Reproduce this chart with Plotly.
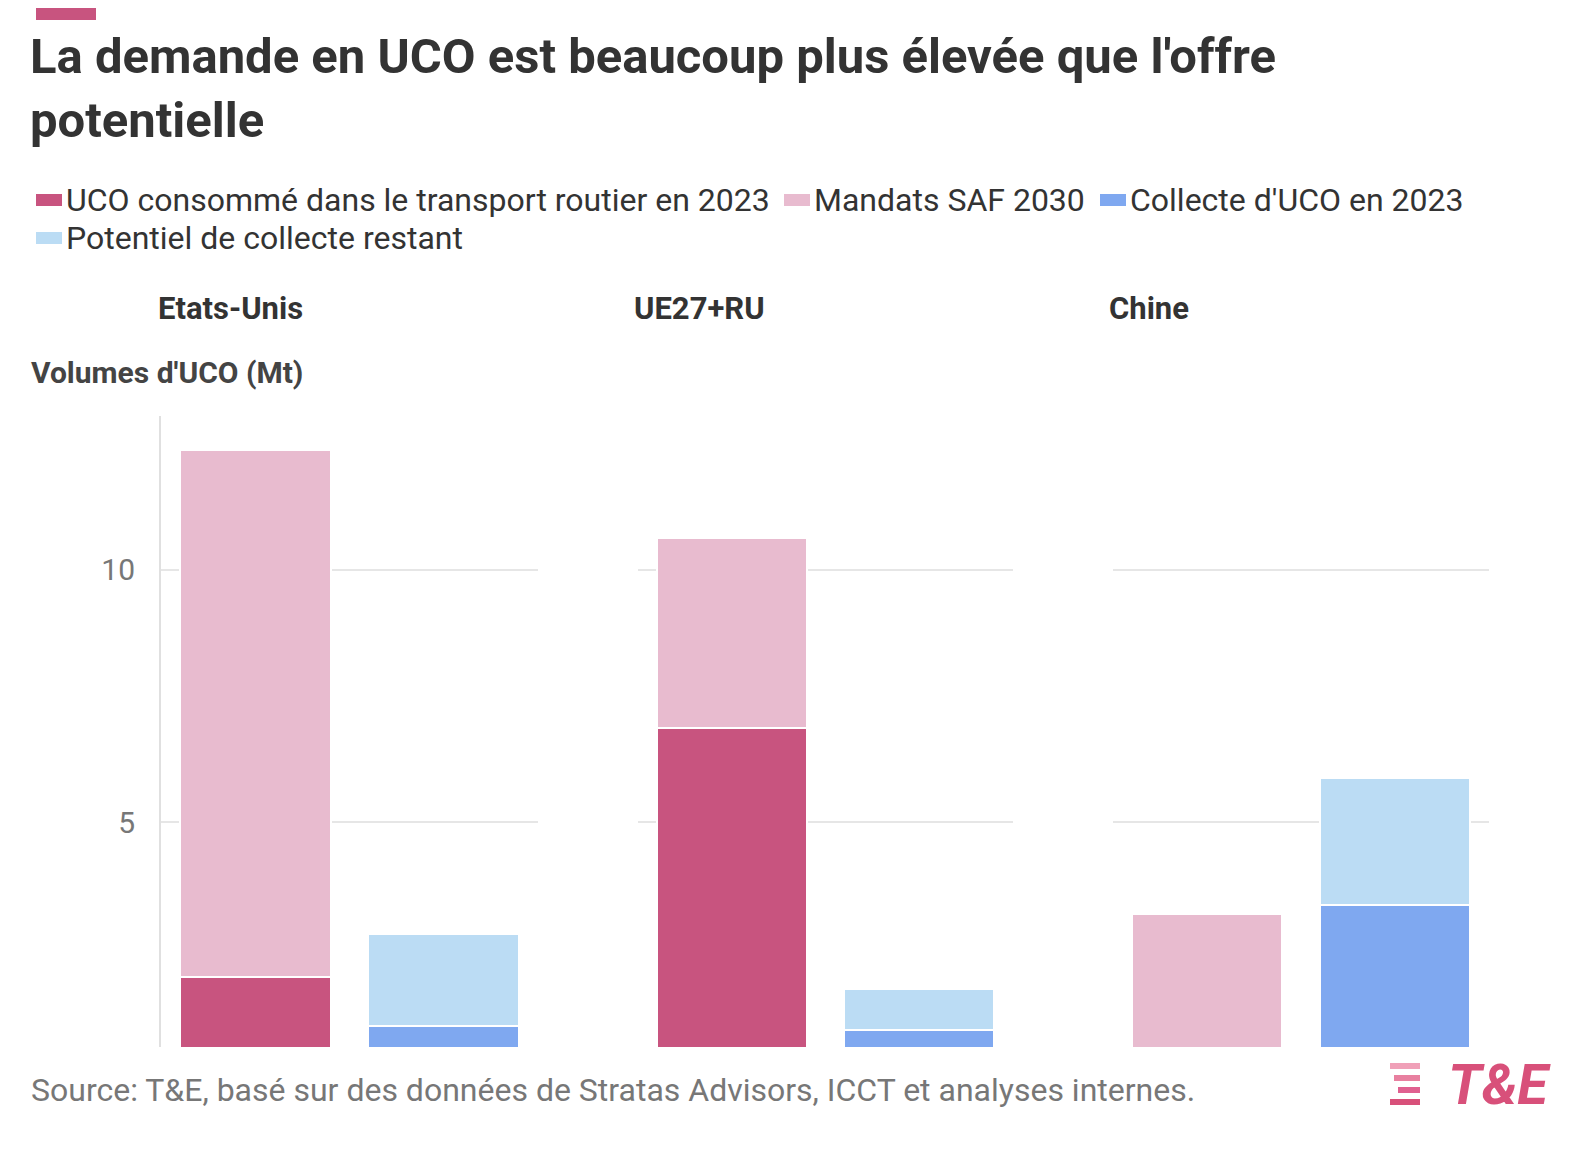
import plotly.graph_objects as go
from plotly.subplots import make_subplots

regions = ["Etats-Unis", "UE27+RU", "Chine"]
# demand bar: road 2023 + SAF 2030 ; supply bar: collected 2023 + remaining potential
road = [1.94, 6.86, 0]
saf = [10.43, 3.77, 3.18]
collect = [0.97, 0.89, 3.36]
remaining = [1.82, 0.81, 2.51]

red, pink, blue, lblue = "#C8547F", "#E8BBCF", "#7FA8F0", "#BBDCF4"
font = "Roboto"
W, H = 1588, 1150
L, R, T, B = 153, 107, 408, 111
pw, ph = W - L - R, H - T - B


def px(x):
    return (x - L) / pw


def py(y):
    return (H - B - y) / ph


fig = make_subplots(rows=1, cols=3, shared_yaxes=True, horizontal_spacing=0.0)
for i in range(3):
    c = i + 1
    fig.add_trace(go.Bar(x=["d"], y=[road[i]], marker_color=red, showlegend=False,
                         marker_line=dict(color="white", width=2)), row=1, col=c)
    fig.add_trace(go.Bar(x=["d"], y=[saf[i]], marker_color=pink, showlegend=False,
                         marker_line=dict(color="white", width=2)), row=1, col=c)
    fig.add_trace(go.Bar(x=["s"], y=[collect[i]], marker_color=blue, showlegend=False,
                         marker_line=dict(color="white", width=2)), row=1, col=c)
    fig.add_trace(go.Bar(x=["s"], y=[remaining[i]], marker_color=lblue, showlegend=False,
                         marker_line=dict(color="white", width=2)), row=1, col=c)

doms = [[0, 377 / pw], [477 / pw, 852 / pw], [952 / pw, 1]]
for i in range(3):
    fig.update_xaxes(domain=doms[i], showticklabels=False, showgrid=False, row=1, col=i + 1)
    fig.update_yaxes(range=[0.55, 13.05], tickvals=[5, 10], gridcolor="#E6E6E6", gridwidth=2,
                     showline=(i == 0), linecolor="#E0E0E0", linewidth=2, zeroline=False,
                     tickfont=dict(size=30, color="#777777"), ticklabelstandoff=18, row=1, col=i + 1)

fig.update_layout(
    width=W, height=H, barmode="stack", bargap=0.2,
    plot_bgcolor="white", paper_bgcolor="white",
    font=dict(family=font, color="#333333"),
    margin=dict(l=L, r=R, t=T, b=B),
    title=dict(text="<b>La demande en UCO est beaucoup plus élevée que l'offre<br>potentielle</b>",
               x=22 / W, xanchor="left", y=1 - 65 / H, yanchor="middle",
               font=dict(size=49, color="#333333")),
)

# legend drawn by hand
legend = [("UCO consommé dans le transport routier en 2023", red, 28, 192),
          ("Mandats SAF 2030", pink, 776, 192),
          ("Collecte d'UCO en 2023", blue, 1092, 192),
          ("Potentiel de collecte restant", lblue, 28, 230)]
for txt, col, x, y in legend:
    fig.add_shape(type="rect", xref="paper", yref="paper", x0=px(x), x1=px(x + 26),
                  y0=py(y + 6), y1=py(y - 6), fillcolor=col, line_width=0)
    fig.add_annotation(text=txt, xref="paper", yref="paper", x=px(x + 28), y=py(y),
                       xanchor="left", yanchor="middle", showarrow=False,
                       font=dict(size=32, color="#333333"))

for txt, xp in zip(regions, [148, 624, 1099]):
    fig.add_annotation(text="<b>" + txt + "</b>", xref="paper", yref="paper", x=px(xp),
                       y=py(300), xanchor="left", yanchor="middle", showarrow=False,
                       font=dict(size=31, color="#333333"))
fig.add_annotation(text="<b>Volumes d'UCO (Mt)</b>", xref="paper", yref="paper", x=px(21),
                   y=py(365), xanchor="left", yanchor="middle", showarrow=False,
                   font=dict(size=30, color="#444444"))
fig.add_annotation(text="Source: T&E, basé sur des données de Stratas Advisors, ICCT et analyses internes.",
                   xref="paper", yref="paper", x=px(21), y=py(1082),
                   xanchor="left", yanchor="middle", showarrow=False,
                   font=dict(size=32, color="#777777"))
fig.add_annotation(text="<b><i>T&E</i></b>", xref="paper", yref="paper", x=px(1545),
                   y=py(1077), xanchor="right", yanchor="middle", showarrow=False,
                   font=dict(size=56, color="#D8507A"))
for k, (y, w) in enumerate([(1058, 30), (1070, 26), (1082, 22), (1094, 30)]):
    fig.add_shape(type="rect", xref="paper", yref="paper", x0=px(1412 - w), x1=px(1412),
                  y0=py(y + 3), y1=py(y - 3), fillcolor=["#F0A0B8", "#E880A0", "#E06090", "#D8507A"][k],
                  line_width=0)
fig.add_shape(type="rect", xref="paper", yref="paper", x0=px(28), x1=px(88),
              y0=py(12), y1=py(0), fillcolor=red, line_width=0)

fig.write_html("out.html")
